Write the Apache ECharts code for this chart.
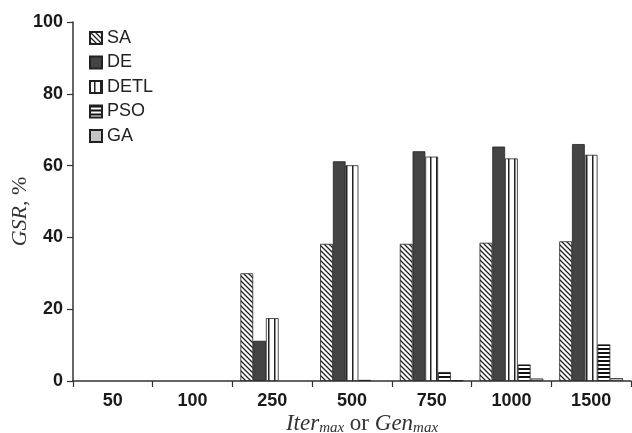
<!DOCTYPE html>
<html>
<head>
<meta charset="utf-8">
<script src="https://cdn.jsdelivr.net/npm/echarts@6/dist/echarts.min.js"></script>
<style>
html,body{margin:0;padding:0;background:#fff;}
#chart{width:632px;height:433px;}
</style>
</head>
<body>
<div id="chart"></div>
<script>
var categories = ['50', '100', '250', '500', '750', '1000', '1500'];
var seriesNames = ['SA', 'DE', 'DETL', 'PSO', 'GA'];
var SA   = [0, 0, 30.0, 38.2, 38.2, 38.5, 38.9];
var DE   = [0, 0, 11.2, 61.2, 64.0, 65.3, 66.0];
var DETL = [0, 0, 17.5, 60.1, 62.5, 62.0, 63.0];
var PSO  = [0, 0, 0, 0.3, 2.5, 4.6, 10.2];
var GA   = [0, 0, 0, 0, 0.2, 0.7, 0.8];
var yTicks = [0, 20, 40, 60, 80, 100];

function makeCanvas(w, h, draw) {
  var c = document.createElement('canvas');
  c.width = w; c.height = h;
  var ctx = c.getContext('2d');
  ctx.fillStyle = '#fff';
  ctx.fillRect(0, 0, w, h);
  draw(ctx, w, h);
  return c;
}
var hatch = makeCanvas(5, 5, function (ctx, w, h) {
  ctx.strokeStyle = '#222';
  ctx.lineWidth = 1.3;
  ctx.beginPath();
  for (var k = -1; k <= 1; k++) {
    ctx.moveTo(k * w - 1, -1);
    ctx.lineTo(k * w + w + 1, h + 1);
  }
  ctx.stroke();
});
var vstripe = makeCanvas(6, 4, function (ctx, w, h) {
  ctx.fillStyle = '#222';
  ctx.fillRect(4, 0, 1.5, h);
});
var hstripe = makeCanvas(4, 4, function (ctx, w, h) {
  ctx.fillStyle = '#111';
  ctx.fillRect(0, 0, w, 2);
});

var fills = [
  {image: hatch, repeat: 'repeat'},
  '#444444',
  {image: vstripe, repeat: 'repeat'},
  {image: hstripe, repeat: 'repeat'},
  '#c4c4c4'
];
var dataSets = [SA, DE, DETL, PSO, GA];

var chart = echarts.init(document.getElementById('chart'), null, {renderer: 'canvas'});
var series = seriesNames.map(function (n, i) {
  return {
    name: n,
    type: 'bar',
    data: dataSets[i].map(function (v) {
      return v === 0 ? {value: v, itemStyle: {borderWidth: 0}} : v;
    }),
    barGap: '0%',
    barCategoryGap: '20%',
    itemStyle: {color: fills[i], borderColor: '#222', borderWidth: 0.8},
    emphasis: {disabled: true},
    animation: false
  };
});

chart.setOption({
  animation: false,
  grid: {left: 73, right: 1, top: 22, bottom: 52, containLabel: false, outerBoundsMode: 'none'},
  legend: {
    orient: 'vertical',
    left: 89,
    top: 29,
    padding: 0,
    itemWidth: 12,
    itemHeight: 12,
    itemGap: 6.5,
    icon: 'rect',
    textStyle: {fontFamily: 'Liberation Sans', fontSize: 18, color: '#222'},
    data: seriesNames
  },
  xAxis: {
    type: 'category',
    data: categories,
    axisLine: {lineStyle: {color: '#333', width: 1.5}},
    axisTick: {show: true, length: 6, lineStyle: {color: '#333', width: 1.2}},
    axisLabel: {fontFamily: 'Liberation Sans', fontWeight: 'bold', fontSize: 18, color: '#1a1a1a', margin: 11},
    name: '{i|Iter}{s|max}{n| or }{i|Gen}{s|max}',
    nameLocation: 'middle',
    nameGap: 30,
    nameMoveOverlap: false,
    nameTextStyle: {
      padding: [0, 0, 0, 20],
      rich: {
        i: {fontFamily: 'Liberation Serif', fontStyle: 'italic', fontSize: 23, color: '#333'},
        s: {fontFamily: 'Liberation Serif', fontStyle: 'italic', fontSize: 15, color: '#333', verticalAlign: 'bottom', padding: [10, 0, 0, 0]},
        n: {fontFamily: 'Liberation Serif', fontSize: 23, color: '#333'}
      }
    }
  },
  yAxis: {
    type: 'value',
    min: yTicks[0],
    max: yTicks[yTicks.length - 1],
    interval: 20,
    axisLine: {show: true, lineStyle: {color: '#333', width: 1.5}},
    axisTick: {show: true, length: 6, lineStyle: {color: '#333', width: 1.2}},
    splitLine: {show: false},
    axisLabel: {fontFamily: 'Liberation Sans', fontWeight: 'bold', fontSize: 18, color: '#1a1a1a', margin: 10},
    name: '{i|GSR}{n|, %}',
    nameLocation: 'middle',
    nameGap: 42,
    nameRotate: 90,
    nameMoveOverlap: false,
    nameTextStyle: {
      padding: [0, 20, 0, 0],
      rich: {
        i: {fontFamily: 'Liberation Serif', fontStyle: 'italic', fontSize: 22, color: '#333'},
        n: {fontFamily: 'Liberation Serif', fontSize: 22, color: '#333'}
      }
    }
  },
  series: series
});
</script>
</body>
</html>
